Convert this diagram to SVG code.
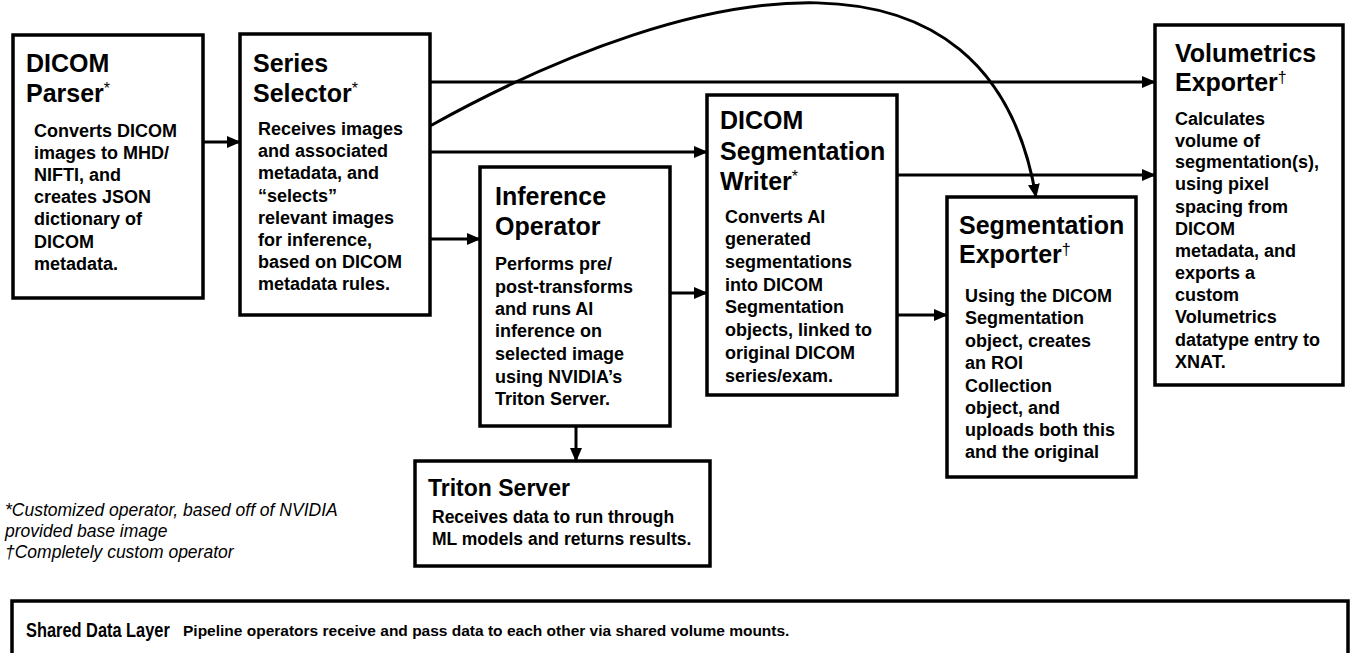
<svg xmlns="http://www.w3.org/2000/svg" width="1351" height="653" viewBox="0 0 1351 653">
<defs>
<marker id="arr" markerUnits="userSpaceOnUse" markerWidth="14" markerHeight="12" refX="13" refY="6" orient="auto">
<path d="M0,0 L14,6 L0,12 Z" fill="#000"/>
</marker>
<style>
.box{fill:#fff;stroke:#000;stroke-width:3.5}
.t{font-family:"Liberation Sans",Arial,Helvetica,sans-serif;font-weight:700;font-size:25px;fill:#000}
.b{font-family:"Liberation Sans",Arial,Helvetica,sans-serif;font-weight:700;font-size:18px;fill:#000}
.sup{font-size:16px;font-weight:400}
.leg{font-family:"Liberation Sans",Arial,Helvetica,sans-serif;font-style:italic;font-size:17.5px;fill:#000}
.c{fill:none;stroke:#000;stroke-width:3;marker-end:url(#arr)}
</style>
</defs>
<rect width="1351" height="653" fill="#fff"/>

<g id="connectors">
<line class="c" x1="203" y1="142" x2="240" y2="142"/>
<line class="c" x1="430" y1="82" x2="1155" y2="82"/>
<path class="c" d="M430,126 C700,-24 990,-76 1036,197"/>
<line class="c" x1="430" y1="152" x2="707" y2="152"/>
<line class="c" x1="430" y1="239" x2="480" y2="239"/>
<line class="c" x1="670" y1="293" x2="707" y2="293"/>
<line class="c" x1="576" y1="426" x2="576" y2="461"/>
<line class="c" x1="897" y1="175" x2="1155" y2="175"/>
<line class="c" x1="897" y1="315" x2="947" y2="315"/>
</g>

<g id="dicom-parser">
<rect class="box" x="13" y="35" width="190" height="263"/>
<text class="t" x="26" y="72">DICOM</text>
<text class="t" x="26" y="102">Parser<tspan class="sup" dy="-8">*</tspan></text>
<text class="b">
<tspan x="34" y="137">Converts DICOM</tspan>
<tspan x="34" y="159">images to MHD/</tspan>
<tspan x="34" y="181">NIFTI, and</tspan>
<tspan x="34" y="203">creates JSON</tspan>
<tspan x="34" y="225">dictionary of</tspan>
<tspan x="34" y="248">DICOM</tspan>
<tspan x="34" y="270">metadata.</tspan>
</text>
</g>

<g id="series-selector">
<rect class="box" x="240" y="34" width="190" height="281"/>
<text class="t" x="253" y="72">Series</text>
<text class="t" x="253" y="102">Selector<tspan class="sup" dy="-8">*</tspan></text>
<text class="b">
<tspan x="258" y="135">Receives images</tspan>
<tspan x="258" y="157">and associated</tspan>
<tspan x="258" y="179">metadata, and</tspan>
<tspan x="258" y="202">“selects”</tspan>
<tspan x="258" y="224">relevant images</tspan>
<tspan x="258" y="246">for inference,</tspan>
<tspan x="258" y="268">based on DICOM</tspan>
<tspan x="258" y="290">metadata rules.</tspan>
</text>
</g>

<g id="inference-operator">
<rect class="box" x="480" y="167" width="190" height="259"/>
<text class="t" x="495" y="205">Inference</text>
<text class="t" x="495" y="235">Operator</text>
<text class="b">
<tspan x="495" y="270">Performs pre/</tspan>
<tspan x="495" y="293">post-transforms</tspan>
<tspan x="495" y="315">and runs AI</tspan>
<tspan x="495" y="337">inference on</tspan>
<tspan x="495" y="360">selected image</tspan>
<tspan x="495" y="383">using NVIDIA’s</tspan>
<tspan x="495" y="405">Triton Server.</tspan>
</text>
</g>

<g id="dicom-segmentation-writer">
<rect class="box" x="707" y="95" width="190" height="300"/>
<text class="t" x="720" y="129">DICOM</text>
<text class="t" x="720" y="160">Segmentation</text>
<text class="t" x="720" y="190">Writer<tspan class="sup" dy="-8">*</tspan></text>
<text class="b">
<tspan x="725" y="223">Converts AI</tspan>
<tspan x="725" y="245">generated</tspan>
<tspan x="725" y="268">segmentations</tspan>
<tspan x="725" y="291">into DICOM</tspan>
<tspan x="725" y="313">Segmentation</tspan>
<tspan x="725" y="336">objects, linked to</tspan>
<tspan x="725" y="359">original DICOM</tspan>
<tspan x="725" y="382">series/exam.</tspan>
</text>
</g>

<g id="segmentation-exporter">
<rect class="box" x="947" y="197" width="189" height="280"/>
<text class="t" x="959" y="234">Segmentation</text>
<text class="t" x="959" y="263">Exporter<tspan class="sup" dy="-8">†</tspan></text>
<text class="b">
<tspan x="965" y="302">Using the DICOM</tspan>
<tspan x="965" y="324">Segmentation</tspan>
<tspan x="965" y="347">object, creates</tspan>
<tspan x="965" y="369">an ROI</tspan>
<tspan x="965" y="392">Collection</tspan>
<tspan x="965" y="414">object, and</tspan>
<tspan x="965" y="436">uploads both this</tspan>
<tspan x="965" y="458">and the original</tspan>
</text>
</g>

<g id="volumetrics-exporter">
<rect class="box" x="1155" y="25" width="188" height="360"/>
<text class="t" x="1175" y="62">Volumetrics</text>
<text class="t" x="1175" y="91">Exporter<tspan class="sup" dy="-8">†</tspan></text>
<text class="b">
<tspan x="1175" y="125">Calculates</tspan>
<tspan x="1175" y="147">volume of</tspan>
<tspan x="1175" y="168">segmentation(s),</tspan>
<tspan x="1175" y="190">using pixel</tspan>
<tspan x="1175" y="213">spacing from</tspan>
<tspan x="1175" y="235">DICOM</tspan>
<tspan x="1175" y="257">metadata, and</tspan>
<tspan x="1175" y="279">exports a</tspan>
<tspan x="1175" y="301">custom</tspan>
<tspan x="1175" y="323">Volumetrics</tspan>
<tspan x="1175" y="346">datatype entry to</tspan>
<tspan x="1175" y="368">XNAT.</tspan>
</text>
</g>

<g id="triton-server">
<rect class="box" x="415" y="461" width="295" height="105"/>
<text class="t" x="428" y="496" style="font-size:23px">Triton Server</text>
<text class="b" style="font-size:17.5px">
<tspan x="432" y="523">Receives data to run through</tspan>
<tspan x="432" y="545">ML models and returns results.</tspan>
</text>
</g>

<g id="legend">
<text class="leg" x="5" y="516">*Customized operator, based off of NVIDIA</text>
<text class="leg" x="5" y="537">provided base image</text>
<text class="leg" x="5" y="558">†Completely custom operator</text>
</g>

<g id="shared-data-layer">
<rect class="box" x="12" y="601" width="1336" height="60"/>
<text class="t" transform="translate(26,637) scale(0.78,1)" style="font-size:21px">Shared Data Layer</text>
<text class="b" x="183" y="636" style="font-size:15.5px">Pipeline operators receive and pass data to each other via shared volume mounts.</text>
</g>
</svg>
